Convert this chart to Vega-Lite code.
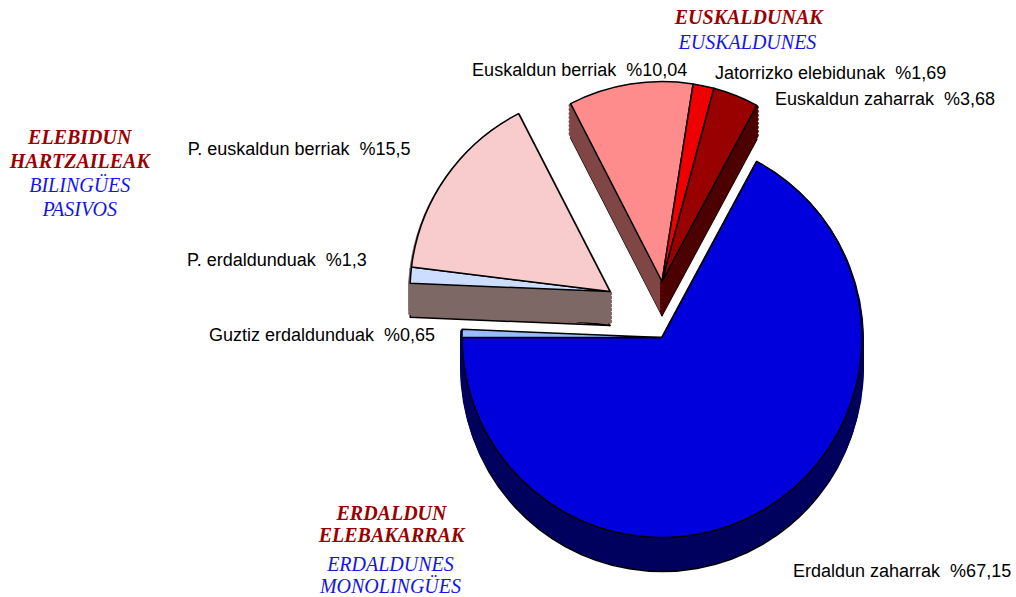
{
  "$schema": "https://vega.github.io/schema/vega-lite/v6.json",
  "width": 1016,
  "height": 597,
  "padding": 0,
  "autosize": {"type": "fit", "contains": "padding"},
  "background": "white",
  "config": {"view": {"stroke": null}},
  "data": {"values": [
    {"izena": "Euskaldun berriak", "ehunekoa": 10.04, "etiketa": "Euskaldun berriak \u00a0%10,04", "taldea": "EUSKALDUNAK", "grupo": "EUSKALDUNES", "ord": 1},
    {"izena": "Jatorrizko elebidunak", "ehunekoa": 1.69, "etiketa": "Jatorrizko elebidunak \u00a0%1,69", "taldea": "EUSKALDUNAK", "grupo": "EUSKALDUNES", "ord": 2},
    {"izena": "Euskaldun zaharrak", "ehunekoa": 3.68, "etiketa": "Euskaldun zaharrak \u00a0%3,68", "taldea": "EUSKALDUNAK", "grupo": "EUSKALDUNES", "ord": 3},
    {"izena": "Erdaldun zaharrak", "ehunekoa": 67.15, "etiketa": "Erdaldun zaharrak \u00a0%67,15", "taldea": "ERDALDUN\nELEBAKARRAK", "grupo": "ERDALDUNES\nMONOLINGÜES", "ord": 4},
    {"izena": "Guztiz erdaldunduak", "ehunekoa": 0.65, "etiketa": "Guztiz erdaldunduak \u00a0%0,65", "taldea": "ERDALDUN\nELEBAKARRAK", "grupo": "ERDALDUNES\nMONOLINGÜES", "ord": 5},
    {"izena": "P. erdaldunduak", "ehunekoa": 1.3, "etiketa": "P. erdaldunduak \u00a0%1,3", "taldea": "ELEBIDUN\nHARTZAILEAK", "grupo": "BILINGÜES\nPASIVOS", "ord": 6},
    {"izena": "P. euskaldun berriak", "ehunekoa": 15.5, "etiketa": "P. euskaldun berriak \u00a0%15,5", "taldea": "ELEBIDUN\nHARTZAILEAK", "grupo": "BILINGÜES\nPASIVOS", "ord": 7}
  ]},
  "transform": [
    {"stack": "ehunekoa", "groupby": [], "sort": [{"field": "ord", "order": "ascending"}], "as": ["start", "end"]},
    {"calculate": "(datum.start + datum.end) / 2", "as": "mid"}
  ],
  "layer": [
    {"transform": [{"filter": {"field": "izena", "oneOf": ["P. erdaldunduak", "P. euskaldun berriak"]}}],
     "mark": {"type": "arc", "radius": 200, "xOffset": 102, "yOffset": 27.5, "stroke": "black", "strokeWidth": 1.5, "strokeJoin": "round"},
     "encoding": {"theta": {"field": "start", "type": "quantitative", "stack": null, "scale": {"domain": [0, 100.01], "range": [-0.4745, 5.8087], "nice": false, "zero": false}}, "theta2": {"field": "end"},
       "fill": {"field": "izena", "type": "nominal", "legend": null, "scale": {"domain": ["Euskaldun berriak", "Jatorrizko elebidunak", "Euskaldun zaharrak", "Erdaldun zaharrak", "Guztiz erdaldunduak", "P. erdaldunduak", "P. euskaldun berriak"], "range": ["#804646", "#770000", "#4D0000", "#00005E", "#00005E", "#7E6866", "#7E6866"]}}}},
    {"transform": [{"filter": {"field": "izena", "oneOf": ["P. erdaldunduak", "P. euskaldun berriak"]}}],
     "layer": [
       {"mark": {"type": "arc", "radius": 200, "xOffset": 102, "yOffset": 23.5, "strokeWidth": 4, "strokeJoin": "round"}},
       {"mark": {"type": "arc", "radius": 200, "xOffset": 102, "yOffset": 19.5, "strokeWidth": 4, "strokeJoin": "round"}},
       {"mark": {"type": "arc", "radius": 200, "xOffset": 102, "yOffset": 15.5, "strokeWidth": 4, "strokeJoin": "round"}},
       {"mark": {"type": "arc", "radius": 200, "xOffset": 102, "yOffset": 11.5, "strokeWidth": 4, "strokeJoin": "round"}},
       {"mark": {"type": "arc", "radius": 200, "xOffset": 102, "yOffset": 7.5, "strokeWidth": 4, "strokeJoin": "round"}},
       {"mark": {"type": "arc", "radius": 200, "xOffset": 102, "yOffset": 3.5, "strokeWidth": 4, "strokeJoin": "round"}},
       {"mark": {"type": "arc", "radius": 200, "xOffset": 102, "yOffset": -0.5, "strokeWidth": 4, "strokeJoin": "round"}},
       {"mark": {"type": "arc", "radius": 200, "xOffset": 102, "yOffset": -4.5, "strokeWidth": 4, "strokeJoin": "round"}}
     ],
     "encoding": {"theta": {"field": "start", "type": "quantitative", "stack": null}, "theta2": {"field": "end"},
       "fill": {"field": "izena", "type": "nominal", "legend": null},
       "stroke": {"field": "izena", "type": "nominal", "legend": null, "scale": {"domain": ["Euskaldun berriak", "Jatorrizko elebidunak", "Euskaldun zaharrak", "Erdaldun zaharrak", "Guztiz erdaldunduak", "P. erdaldunduak", "P. euskaldun berriak"], "range": ["#804646", "#770000", "#4D0000", "#00005E", "#00005E", "#7E6866", "#7E6866"]}}}},
    {"transform": [{"filter": {"field": "izena", "oneOf": ["P. erdaldunduak", "P. euskaldun berriak"]}}],
     "mark": {"type": "arc", "radius": 200, "xOffset": 102, "yOffset": -6.5, "stroke": "black", "strokeWidth": 1.5, "strokeJoin": "round"},
     "encoding": {"theta": {"field": "start", "type": "quantitative", "stack": null}, "theta2": {"field": "end"},
       "color": {"field": "izena", "type": "nominal", "legend": null, "scale": {"domain": ["Euskaldun berriak", "Jatorrizko elebidunak", "Euskaldun zaharrak", "Erdaldun zaharrak", "Guztiz erdaldunduak", "P. erdaldunduak", "P. euskaldun berriak"], "range": ["#FF8C8C", "#EE0000", "#990000", "#0000DD", "#99BBFF", "#CCDDFF", "#F8CCCC"]}}}},

    {"transform": [{"filter": {"field": "izena", "oneOf": ["Euskaldun berriak", "Jatorrizko elebidunak", "Euskaldun zaharrak"]}}],
     "mark": {"type": "arc", "radius": 200, "xOffset": 154, "yOffset": 17.5, "stroke": "black", "strokeWidth": 1.5, "strokeJoin": "round"},
     "encoding": {"theta": {"field": "start", "type": "quantitative", "stack": null}, "theta2": {"field": "end"},
       "fill": {"field": "izena", "type": "nominal", "legend": null}}},
    {"transform": [{"filter": {"field": "izena", "oneOf": ["Euskaldun berriak", "Jatorrizko elebidunak", "Euskaldun zaharrak"]}}],
     "layer": [
       {"mark": {"type": "arc", "radius": 200, "xOffset": 154, "yOffset": 13.5, "strokeWidth": 4, "strokeJoin": "round"}},
       {"mark": {"type": "arc", "radius": 200, "xOffset": 154, "yOffset": 9.5, "strokeWidth": 4, "strokeJoin": "round"}},
       {"mark": {"type": "arc", "radius": 200, "xOffset": 154, "yOffset": 5.5, "strokeWidth": 4, "strokeJoin": "round"}},
       {"mark": {"type": "arc", "radius": 200, "xOffset": 154, "yOffset": 1.5, "strokeWidth": 4, "strokeJoin": "round"}},
       {"mark": {"type": "arc", "radius": 200, "xOffset": 154, "yOffset": -2.5, "strokeWidth": 4, "strokeJoin": "round"}},
       {"mark": {"type": "arc", "radius": 200, "xOffset": 154, "yOffset": -6.5, "strokeWidth": 4, "strokeJoin": "round"}},
       {"mark": {"type": "arc", "radius": 200, "xOffset": 154, "yOffset": -10.5, "strokeWidth": 4, "strokeJoin": "round"}},
       {"mark": {"type": "arc", "radius": 200, "xOffset": 154, "yOffset": -14.5, "strokeWidth": 4, "strokeJoin": "round"}}
     ],
     "encoding": {"theta": {"field": "start", "type": "quantitative", "stack": null}, "theta2": {"field": "end"},
       "fill": {"field": "izena", "type": "nominal", "legend": null},
       "stroke": {"field": "izena", "type": "nominal", "legend": null}}},
    {"transform": [{"filter": {"field": "izena", "oneOf": ["Euskaldun berriak", "Jatorrizko elebidunak", "Euskaldun zaharrak"]}}],
     "mark": {"type": "arc", "radius": 200, "xOffset": 154, "yOffset": -16.5, "stroke": "black", "strokeWidth": 1.5, "strokeJoin": "round"},
     "encoding": {"theta": {"field": "start", "type": "quantitative", "stack": null}, "theta2": {"field": "end"},
       "color": {"field": "izena", "type": "nominal", "legend": null}}},

    {"transform": [{"filter": {"field": "izena", "oneOf": ["Erdaldun zaharrak", "Guztiz erdaldunduak"]}}],
     "mark": {"type": "arc", "radius": 200, "xOffset": 154, "yOffset": 73.5, "stroke": "black", "strokeWidth": 1.5, "strokeJoin": "round"},
     "encoding": {"theta": {"field": "start", "type": "quantitative", "stack": null}, "theta2": {"field": "end"},
       "fill": {"field": "izena", "type": "nominal", "legend": null}}},
    {"transform": [{"filter": {"field": "izena", "oneOf": ["Erdaldun zaharrak", "Guztiz erdaldunduak"]}}],
     "layer": [
       {"mark": {"type": "arc", "radius": 200, "xOffset": 154, "yOffset": 69.5, "strokeWidth": 4, "strokeJoin": "round"}},
       {"mark": {"type": "arc", "radius": 200, "xOffset": 154, "yOffset": 65.5, "strokeWidth": 4, "strokeJoin": "round"}},
       {"mark": {"type": "arc", "radius": 200, "xOffset": 154, "yOffset": 61.5, "strokeWidth": 4, "strokeJoin": "round"}},
       {"mark": {"type": "arc", "radius": 200, "xOffset": 154, "yOffset": 57.5, "strokeWidth": 4, "strokeJoin": "round"}},
       {"mark": {"type": "arc", "radius": 200, "xOffset": 154, "yOffset": 53.5, "strokeWidth": 4, "strokeJoin": "round"}},
       {"mark": {"type": "arc", "radius": 200, "xOffset": 154, "yOffset": 49.5, "strokeWidth": 4, "strokeJoin": "round"}},
       {"mark": {"type": "arc", "radius": 200, "xOffset": 154, "yOffset": 45.5, "strokeWidth": 4, "strokeJoin": "round"}},
       {"mark": {"type": "arc", "radius": 200, "xOffset": 154, "yOffset": 41.5, "strokeWidth": 4, "strokeJoin": "round"}}
     ],
     "encoding": {"theta": {"field": "start", "type": "quantitative", "stack": null}, "theta2": {"field": "end"},
       "fill": {"field": "izena", "type": "nominal", "legend": null},
       "stroke": {"field": "izena", "type": "nominal", "legend": null}}},
    {"transform": [{"filter": {"field": "izena", "oneOf": ["Erdaldun zaharrak", "Guztiz erdaldunduak"]}}],
     "mark": {"type": "arc", "radius": 200, "xOffset": 154, "yOffset": 39.5, "stroke": "black", "strokeWidth": 1.5, "strokeJoin": "round"},
     "encoding": {"theta": {"field": "start", "type": "quantitative", "stack": null}, "theta2": {"field": "end"},
       "color": {"field": "izena", "type": "nominal", "legend": null}}},

    {"transform": [{"filter": {"field": "izena", "equal": "Euskaldun berriak"}}],
     "mark": {"type": "text", "radius": 213, "xOffset": 154, "yOffset": -16.5, "dx": 59, "align": "right", "baseline": "middle", "font": "Liberation Sans", "fontSize": 18, "fill": "#000000"},
     "encoding": {"theta": {"field": "mid", "type": "quantitative", "stack": null}, "text": {"field": "etiketa"}}},
    {"transform": [{"filter": {"field": "izena", "equal": "Jatorrizko elebidunak"}}],
     "mark": {"type": "text", "radius": 212, "xOffset": 154, "yOffset": -16.5, "dx": 9, "align": "left", "baseline": "middle", "font": "Liberation Sans", "fontSize": 18, "fill": "#000000"},
     "encoding": {"theta": {"field": "mid", "type": "quantitative", "stack": null}, "text": {"field": "etiketa"}}},
    {"transform": [{"filter": {"field": "izena", "equal": "Euskaldun zaharrak"}}],
     "mark": {"type": "text", "radius": 195, "xOffset": 154, "yOffset": -16.5, "dx": 41, "align": "left", "baseline": "middle", "font": "Liberation Sans", "fontSize": 18, "fill": "#000000"},
     "encoding": {"theta": {"field": "mid", "type": "quantitative", "stack": null}, "text": {"field": "etiketa"}}},
    {"transform": [{"filter": {"field": "izena", "equal": "P. euskaldun berriak"}}],
     "mark": {"type": "text", "radius": 247, "xOffset": 102, "yOffset": -6.5, "dx": 3, "align": "right", "baseline": "middle", "font": "Liberation Sans", "fontSize": 18, "fill": "#000000"},
     "encoding": {"theta": {"field": "mid", "type": "quantitative", "stack": null}, "text": {"field": "etiketa"}}},
    {"transform": [{"filter": {"field": "izena", "equal": "P. erdaldunduak"}}],
     "mark": {"type": "text", "radius": 244, "xOffset": 102, "yOffset": -6.5, "dy": -11, "align": "right", "baseline": "middle", "font": "Liberation Sans", "fontSize": 18, "fill": "#000000"},
     "encoding": {"theta": {"field": "mid", "type": "quantitative", "stack": null}, "text": {"field": "etiketa"}}},
    {"transform": [{"filter": {"field": "izena", "equal": "Guztiz erdaldunduak"}}],
     "mark": {"type": "text", "radius": 227, "xOffset": 154, "yOffset": 39.5, "dy": 3, "align": "right", "baseline": "middle", "font": "Liberation Sans", "fontSize": 18, "fill": "#000000"},
     "encoding": {"theta": {"field": "mid", "type": "quantitative", "stack": null}, "text": {"field": "etiketa"}}},
    {"transform": [{"filter": {"field": "izena", "equal": "Erdaldun zaharrak"}}],
     "mark": {"type": "text", "radius": 273, "xOffset": 154, "yOffset": 39.5, "dx": -9, "align": "left", "baseline": "middle", "font": "Liberation Sans", "fontSize": 18, "fill": "#000000"},
     "encoding": {"theta": {"field": "mid", "type": "quantitative", "stack": null}, "text": {"field": "etiketa"}}},

    {"transform": [{"filter": {"field": "izena", "equal": "Jatorrizko elebidunak"}}],
     "mark": {"type": "text", "radius": 263, "xOffset": 154, "yOffset": -16.5, "dx": 32, "align": "center", "baseline": "alphabetic", "font": "Liberation Serif", "fontSize": 20, "fontWeight": "bold", "fontStyle": "italic", "fill": "#990000"},
     "encoding": {"theta": {"field": "mid", "type": "quantitative", "stack": null}, "text": {"field": "taldea"}}},
    {"transform": [{"filter": {"field": "izena", "equal": "Jatorrizko elebidunak"}}],
     "mark": {"type": "text", "radius": 238, "xOffset": 154, "yOffset": -16.5, "dx": 36, "align": "center", "baseline": "alphabetic", "font": "Liberation Serif", "fontSize": 20, "fontStyle": "italic", "fill": "#1414E6"},
     "encoding": {"theta": {"field": "mid", "type": "quantitative", "stack": null}, "text": {"field": "grupo"}}},
    {"transform": [{"filter": {"field": "izena", "equal": "P. erdaldunduak"}}],
     "mark": {"type": "text", "radius": 532, "xOffset": 102, "yOffset": -6.5, "dy": -104.5, "align": "center", "baseline": "alphabetic", "lineBreak": "\n", "lineHeight": 24.5, "font": "Liberation Serif", "fontSize": 20, "fontWeight": "bold", "fontStyle": "italic", "fill": "#990000"},
     "encoding": {"theta": {"field": "mid", "type": "quantitative", "stack": null}, "text": {"field": "taldea"}}},
    {"transform": [{"filter": {"field": "izena", "equal": "P. erdaldunduak"}}],
     "mark": {"type": "text", "radius": 532, "xOffset": 102, "yOffset": -6.5, "dy": -56.5, "align": "center", "baseline": "alphabetic", "lineBreak": "\n", "lineHeight": 24, "font": "Liberation Serif", "fontSize": 20, "fontStyle": "italic", "fill": "#1414E6"},
     "encoding": {"theta": {"field": "mid", "type": "quantitative", "stack": null}, "text": {"field": "grupo"}}},
    {"transform": [{"filter": {"field": "izena", "equal": "Guztiz erdaldunduak"}}],
     "mark": {"type": "text", "radius": 270.6, "xOffset": 154, "yOffset": 39.5, "dy": 187.6, "align": "center", "baseline": "alphabetic", "lineBreak": "\n", "lineHeight": 22.7, "font": "Liberation Serif", "fontSize": 20, "fontWeight": "bold", "fontStyle": "italic", "fill": "#990000"},
     "encoding": {"theta": {"field": "mid", "type": "quantitative", "stack": null}, "text": {"field": "taldea"}}},
    {"transform": [{"filter": {"field": "izena", "equal": "Guztiz erdaldunduak"}}],
     "mark": {"type": "text", "radius": 271.6, "xOffset": 154, "yOffset": 39.5, "dy": 238.6, "align": "center", "baseline": "alphabetic", "lineBreak": "\n", "lineHeight": 22, "font": "Liberation Serif", "fontSize": 20, "fontStyle": "italic", "fill": "#1414E6"},
     "encoding": {"theta": {"field": "mid", "type": "quantitative", "stack": null}, "text": {"field": "grupo"}}}
  ]
}
